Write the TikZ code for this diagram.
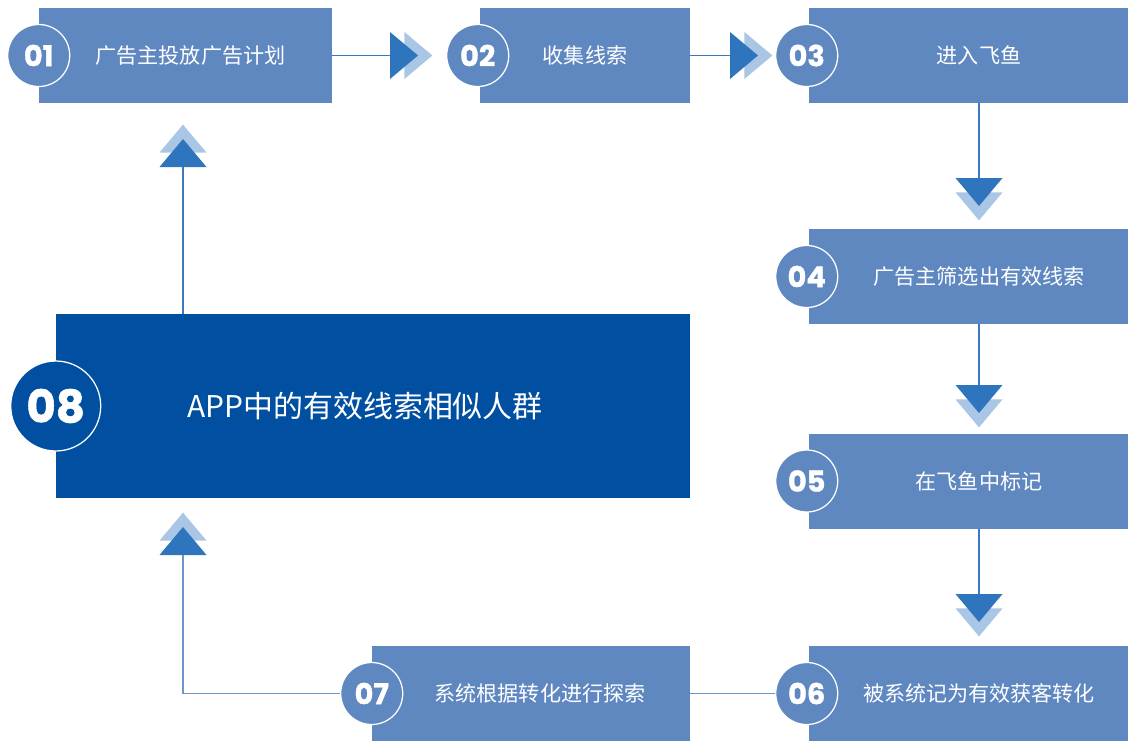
\documentclass[tikz,border=0pt]{standalone}
\usepackage{fontspec}
\usepackage{xcolor}
\usepackage{tikz}
\usetikzlibrary{shapes,arrows,positioning,calc}
\newfontfamily\cjk{Noto Sans CJK SC}
\newfontfamily\numfont{Poppins}[BoldFeatures={FakeBold=1.2}]
\definecolor{stepblue}{HTML}{5F88C1}
\definecolor{appblue}{HTML}{004FA0}
\definecolor{tipdarkblue}{HTML}{2E75BE}
\definecolor{tiplightblue}{HTML}{A9C6E5}
\definecolor{linkblue}{HTML}{3A78C0}
\definecolor{linklight}{HTML}{6F96C9}

% double triangle marker: position, direction
\newcommand{\flowtip}[2]{%
  \begin{scope}[shift={#1}, rotate=#2]
    \fill[tiplightblue] (0.36,0.5875) -- (1.06,0) -- (0.36,-0.5875) -- cycle;
    \fill[tipdarkblue] (0,0.5875) -- (0.7,0) -- (0,-0.5875) -- cycle;
  \end{scope}}

\begin{document}
\begin{tikzpicture}[
    stepbox/.style={fill=stepblue, inner sep=0pt, minimum height=2.375cm, text=white, font=\cjk\fontsize{15}{18}\selectfont, align=center},
    appbox/.style={fill=appblue, inner sep=0pt, minimum width=15.85cm, minimum height=4.6cm, text=white, font=\cjk\fontsize{21.3}{25}\selectfont},
    numcirc/.style={circle, fill=stepblue, draw=white, line width=0.9pt, minimum size=1.55cm, inner sep=0pt, text=white, font=\numfont\bfseries\fontsize{20.5}{20.5}\selectfont},
    bignum/.style={circle, fill=appblue, draw=white, line width=0.9pt, minimum size=2.25cm, inner sep=0pt, text=white, font=\numfont\bfseries\fontsize{32}{32}\selectfont},
    link/.style={draw=linkblue, line width=1pt},
    softlink/.style={draw=linklight, line width=1.1pt}
]
    \useasboundingbox (0,0) rectangle (28.2,-18.5);

    % Top row
    \node[stepbox, minimum width=7.325cm] (b1) at (4.6375,-1.3875) {\hspace{0.25cm}广告主投放广告计划};
    \node[stepbox, minimum width=5.25cm] (b2) at (14.625,-1.3875) {收集线索};
    \node[stepbox, minimum width=8.5cm] (b3) at (24.475,-1.3875) {进入飞鱼};

    % Right column
    \node[stepbox, minimum width=8.5cm] (b4) at (24.475,-6.9125) {广告主筛选出有效线索};
    \node[stepbox, minimum width=8.5cm] (b5) at (24.475,-12.025) {在飞鱼中标记};
    \node[stepbox, minimum width=8.5cm] (b6) at (24.475,-17.3375) {被系统记为有效获客转化};

    % Bottom row
    \node[stepbox, minimum width=7.95cm] (b7) at (13.275,-17.3375) {\hspace{0.45cm}系统根据转化进行探索};

    % Result
    \node[appbox] (b8) at (9.325,-10.15) {APP中的有效线索相似人群\hspace*{0.4cm}};

    % Number badges
    \node[numcirc] (n1) at (b1.west) {01};
    \node[numcirc] (n2) at ([xshift=-0.05cm]b2.west) {02};
    \node[numcirc] (n3) at ([xshift=-0.05cm]b3.west) {03};
    \node[numcirc] (n4) at ([xshift=-0.05cm]b4.west) {04};
    \node[numcirc] (n5) at ([xshift=-0.05cm]b5.west) {05};
    \node[numcirc] (n6) at ([xshift=-0.05cm]b6.west) {06};
    \node[numcirc] (n7) at (b7.west) {07};
    \node[bignum] (n8) at (b8.west) {08};

    % Marker positions
    \coordinate (c12) at (9.75,-1.3875);
    \coordinate (c23) at (18.25,-1.3875);
    \coordinate (c34) at (24.475,-4.45);
    \coordinate (c45) at (24.475,-9.625);
    \coordinate (c56) at (24.475,-14.85);
    \coordinate (u81) at (4.575,-4.175);
    \coordinate (u78) at (4.575,-13.875);

    % Links
    \draw[link] (b1.east) -- (c12);
    \draw[link] (b2.east) -- (c23);
    \draw[link] (b3.south) -- (c34);
    \draw[link] (b4.south) -- (c45);
    \draw[link] (b5.south) -- (c56);
    \draw[softlink] (n6.west) -- (b7.east);
    \draw[softlink] (n7.west) -| (u78);
    \draw[link] (b8.north -| u81) -- (u81);

    % Markers
    \flowtip{(c12)}{0}
    \flowtip{(c23)}{0}
    \flowtip{(c34)}{-90}
    \flowtip{(c45)}{-90}
    \flowtip{(c56)}{-90}
    \flowtip{(u81)}{90}
    \flowtip{(u78)}{90}

\end{tikzpicture}
\end{document}
